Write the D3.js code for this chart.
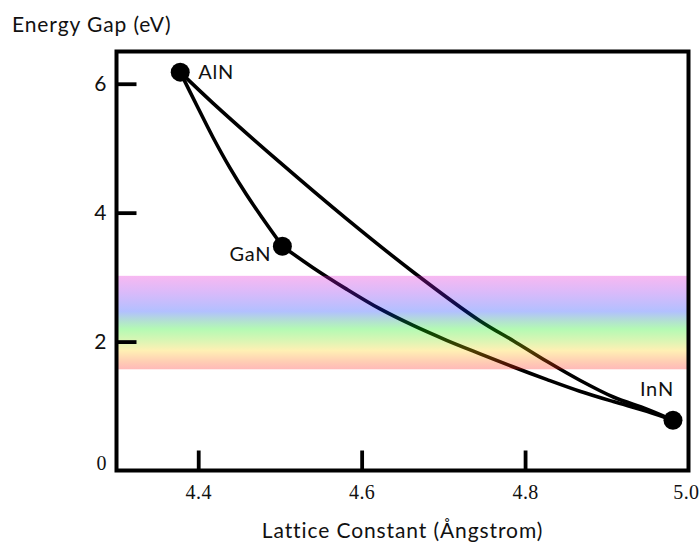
<!DOCTYPE html>
<html>
<head>
<meta charset="utf-8">
<script src="https://cdn.jsdelivr.net/npm/d3@7"></script>
<style>
  body { margin: 0; background: #fff; }
  svg { display: block; }
</style>
</head>
<body>
<div id="chart"></div>
<script>
var width = 700,
  height = 542;

var margin = { left: 116.5, top: 51.5, right: 11.5, bottom: 71.5 };

// binary compounds
var compounds = ["AlN", "GaN", "InN"];
var latticeA = [4.378, 4.503, 4.981];
var gapE = [6.18, 3.48, 0.78];

// ternary curves
var alganA = [4.378, 4.398, 4.418, 4.439, 4.459, 4.480, 4.503];
var alganE = [6.18, 5.67, 5.17, 4.69, 4.28, 3.89, 3.48];

var alinnA = [4.378, 4.418, 4.500, 4.582, 4.663, 4.745, 4.786, 4.827, 4.867, 4.908, 4.949, 4.981];
var alinnE = [6.18, 5.70, 4.78, 3.90, 3.08, 2.32, 2.01, 1.69, 1.40, 1.14, 0.95, 0.78];

var ganinnA = [4.503, 4.540, 4.582, 4.622, 4.663, 4.704, 4.745, 4.785, 4.827, 4.867, 4.908, 4.949, 4.981];
var ganinnE = [3.48, 3.15, 2.81, 2.51, 2.25, 2.02, 1.81, 1.61, 1.41, 1.23, 1.07, 0.92, 0.78];

// visible light band (eV)
var visibleBand = [1.57, 3.02];

var xTicks = [4.4, 4.6, 4.8, 5.0];
var yTicks = [0, 2, 4, 6];

var labelFont = "Lato, 'Open Sans', sans-serif";
var serifFont = "'Liberation Serif', 'DejaVu Serif', serif";

var svg = d3.select("#chart")
  .append("svg")
  .attr("width", width)
  .attr("height", height);

var x = d3.scaleLinear()
  .domain([4.3, 5.0])
  .range([margin.left, width - margin.right]);

var y = d3.scaleLinear()
  .domain([0, 6.5])
  .range([height - margin.bottom, margin.top]);

// gradient for the band
var defs = svg.append("defs");
var grad = defs.append("linearGradient")
  .attr("id", "spectrum")
  .attr("x1", 0).attr("y1", 0)
  .attr("x2", 0).attr("y2", 1);

var stops = [
  [0, "rgb(230,20,210)"],
  [0.18, "rgb(130,25,238)"],
  [0.38, "rgb(0,45,255)"],
  [0.48, "rgb(0,150,110)"],
  [0.57, "rgb(5,238,5)"],
  [0.7, "rgb(138,222,5)"],
  [0.8, "rgb(255,205,5)"],
  [0.92, "rgb(255,88,5)"],
  [1, "rgb(255,22,22)"]
];
grad.selectAll("stop")
  .data(stops)
  .enter().append("stop")
  .attr("offset", function(d) { return d[0]; })
  .attr("stop-color", function(d) { return d[1]; })
  .attr("stop-opacity", 0.3);

// curves
var line = d3.line()
  .x(function(d) { return x(d[0]); })
  .y(function(d) { return y(d[1]); })
  .curve(d3.curveCatmullRom);

var curves = [
  d3.zip(alganA, alganE),
  d3.zip(alinnA, alinnE),
  d3.zip(ganinnA, ganinnE)
];

svg.selectAll(".curve")
  .data(curves)
  .enter().append("path")
  .attr("class", "curve")
  .attr("d", line)
  .attr("fill", "none")
  .attr("stroke", "#000")
  .attr("stroke-width", 3.6)
  .attr("stroke-linecap", "round");

// band on top of the lines
svg.append("rect")
  .attr("x", x(4.3))
  .attr("y", y(visibleBand[1]))
  .attr("width", x(5.0) - x(4.3))
  .attr("height", y(visibleBand[0]) - y(visibleBand[1]))
  .attr("fill", "url(#spectrum)");

// axes, ticks pointing inward
var xAxis = svg.append("g")
  .attr("transform", "translate(0," + y(0) + ")")
  .call(d3.axisBottom(x).tickValues(xTicks).tickSize(-20).tickPadding(14)
    .tickFormat(d3.format(".1f")));
xAxis.select(".domain").remove();
xAxis.selectAll(".tick line")
  .attr("stroke", "#000")
  .attr("stroke-width", 3.8)
  .filter(function(d) { return d == 5.0; }).remove();
xAxis.selectAll("text")
  .attr("font-family", serifFont)
  .attr("font-size", "20px")
  .attr("letter-spacing", "0.4px")
  .attr("fill", "#111");
// last label sits at the right edge of the page
xAxis.selectAll("text")
  .filter(function(d) { return d == 5.0; })
  .attr("text-anchor", "end")
  .attr("x", 10.5);

var yAxis = svg.append("g")
  .attr("transform", "translate(" + x(4.3) + ",0)")
  .call(d3.axisLeft(y).tickValues(yTicks).tickSize(-20).tickPadding(10)
    .tickFormat(d3.format("d")));
yAxis.select(".domain").remove();
yAxis.selectAll(".tick line")
  .attr("stroke", "#000")
  .attr("stroke-width", 3.8)
  .filter(function(d) { return d == 0; }).remove();
yAxis.selectAll("text")
  .attr("font-family", labelFont)
  .attr("font-size", "21px")
  .attr("fill", "#111");
yAxis.selectAll("text")
  .filter(function(d) { return d == 0; })
  .attr("font-family", serifFont)
  .attr("font-size", "20px")
  .attr("dy", "-0.05em");

// frame
svg.append("rect")
  .attr("x", x(4.3))
  .attr("y", y(6.5))
  .attr("width", x(5.0) - x(4.3))
  .attr("height", y(0) - y(6.5))
  .attr("fill", "none")
  .attr("stroke", "#000")
  .attr("stroke-width", 4);

// compound dots and labels
var pts = compounds.map(function(c, i) {
  return { name: c, a: latticeA[i], e: gapE[i] };
});

svg.selectAll(".dot")
  .data(pts)
  .enter().append("circle")
  .attr("class", "dot")
  .attr("cx", function(d) { return x(d.a); })
  .attr("cy", function(d) { return y(d.e); })
  .attr("r", 9.5)
  .attr("fill", "#000");

var labelPos = {
  AlN: { dx: 18, dy: 7, anchor: "start" },
  GaN: { dx: -11, dy: 15, anchor: "end" },
  InN: { dx: 1, dy: -24, anchor: "end" }
};

svg.selectAll(".clabel")
  .data(pts)
  .enter().append("text")
  .attr("class", "clabel")
  .attr("x", function(d) { return x(d.a) + labelPos[d.name].dx; })
  .attr("y", function(d) { return y(d.e) + labelPos[d.name].dy; })
  .attr("text-anchor", function(d) { return labelPos[d.name].anchor; })
  .attr("font-family", labelFont)
  .attr("font-size", "20px")
  .attr("letter-spacing", "0.8px")
  .attr("fill", "#111")
  .text(function(d) { return d.name; });

// axis titles
svg.append("text")
  .attr("x", 12)
  .attr("y", 32)
  .attr("font-family", labelFont)
  .attr("font-size", "21px")
  .attr("letter-spacing", "0.9px")
  .attr("fill", "#111")
  .text("Energy Gap (eV)");

svg.append("text")
  .attr("x", (x(4.3) + x(5.0)) / 2)
  .attr("y", 538)
  .attr("text-anchor", "middle")
  .attr("font-family", labelFont)
  .attr("font-size", "21px")
  .attr("letter-spacing", "0.9px")
  .attr("fill", "#111")
  .text("Lattice Constant (Ångstrom)");
</script>
</body>
</html>
